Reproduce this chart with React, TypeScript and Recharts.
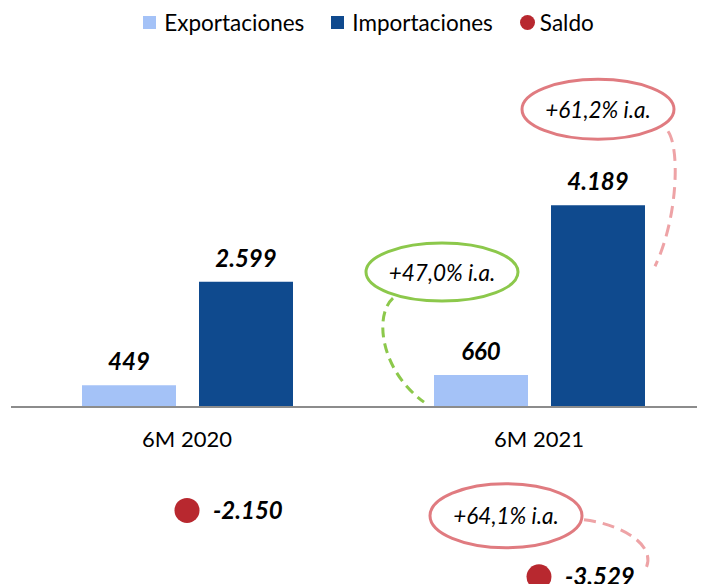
import {
  Bar,
  ComposedChart,
  LabelList,
  Legend,
  Line,
  ReferenceLine,
  XAxis,
  YAxis,
} from "recharts";

const periods = ["6M 2020", "6M 2021"];
const exportValues = [449, 660];
const importValues = [2599, 4189];
const balanceValues = [-2150, -3529];
const exportGrowth = [null, "+47,0% i.a."];
const importGrowth = [null, "+61,2% i.a."];
const balanceGrowth = [null, "+64,1% i.a."];

const FONT = "Lato, 'Noto Sans', sans-serif";
const EXPORT_COLOR = "#a4c2f7";
const IMPORT_COLOR = "#0f4a8e";
const BALANCE_COLOR = "#b8282f";
const GREEN = "#8cc84b";
const PINK = "#e07b80";
const PINK_LIGHT = "#eea3a6";

const data = periods.map((period, i) => ({
  period,
  exports: exportValues[i],
  imports: importValues[i],
  balance: balanceValues[i],
  exportNote: exportGrowth[i],
  importNote: importGrowth[i],
  balanceNote: balanceGrowth[i],
}));

const legendItems = [
  { name: "Exportaciones", color: EXPORT_COLOR, round: false },
  { name: "Importaciones", color: IMPORT_COLOR, round: false },
  { name: "Saldo", color: BALANCE_COLOR, round: true },
];

function fmt(v: unknown): string {
  const n = Number(v);
  const s = String(Math.abs(n)).replace(/\B(?=(\d{3})+(?!\d))/g, ".");
  return n < 0 ? `-${s}` : s;
}

function box(props: any) {
  const vb = props.viewBox ?? {};
  return {
    x: Number(props.x ?? vb.x),
    y: Number(props.y ?? vb.y),
    width: Number(props.width ?? vb.width ?? 0),
  };
}

function LegendContent() {
  return (
    <div
      style={{
        display: "flex",
        justifyContent: "center",
        alignItems: "center",
        height: 44,
        paddingLeft: 32,
        fontFamily: FONT,
        fontSize: 22.5,
        color: "#000",
      }}
    >
      {legendItems.map((item, i) => (
        <span
          key={item.name}
          style={{ display: "flex", alignItems: "center", marginLeft: i ? 27 : 0 }}
        >
          <span
            style={{
              display: "inline-block",
              width: item.round ? 15 : 13,
              height: item.round ? 15 : 13,
              background: item.color,
              borderRadius: item.round ? "50%" : 0,
              marginRight: item.round ? 5 : 8,
            }}
          />
          {item.name}
        </span>
      ))}
    </div>
  );
}

const renderCategoryTick = (props: any) => {
  const { x, y, payload } = props;
  return (
    <text
      x={x}
      y={Number(y) - 146}
      textAnchor="middle"
      fontFamily={FONT}
      fontSize={22}
      fill="#000"
    >
      {payload.value}
    </text>
  );
};

function NoteBubble({ cx, cy, rx, ry, color, text }: any) {
  return (
    <g>
      <ellipse cx={cx} cy={cy} rx={rx} ry={ry} fill="#fff" stroke={color} strokeWidth={3} />
      <text
        x={cx}
        y={cy}
        textAnchor="middle"
        dominantBaseline="central"
        fontFamily={FONT}
        fontStyle="italic"
        fontSize={22.5}
        fill="#000"
      >
        {text}
      </text>
    </g>
  );
}

const renderExportNote = (props: any) => {
  if (!props.value) return null;
  const { x, y } = box(props);
  return (
    <g>
      <path
        d={`M${x - 41},${y - 77} C${x - 60},${y - 60} ${x - 54},${y - 5} ${x - 10},${y + 27}`}
        fill="none"
        stroke={GREEN}
        strokeWidth={3}
        strokeDasharray="10 6"
      />
      <NoteBubble cx={x + 8} cy={y - 103} rx={76} ry={29} color={GREEN} text={props.value} />
    </g>
  );
};

const renderImportNote = (props: any) => {
  if (!props.value) return null;
  const { x, y, width } = box(props);
  const r = x + width;
  return (
    <g>
      <path
        d={`M${r + 23},${y - 74} C${r + 35},${y - 57} ${r + 33},${y + 13} ${r + 10},${y + 61}`}
        fill="none"
        stroke={PINK_LIGHT}
        strokeWidth={3}
        strokeDasharray="12 7"
      />
      <NoteBubble cx={x + width / 2} cy={y - 96} rx={76} ry={30} color={PINK} text={props.value} />
    </g>
  );
};

const renderBalanceNote = (props: any) => {
  if (!props.value) return null;
  const { x, y } = box(props);
  return (
    <g>
      <path
        d={`M${x + 45},${y - 57} C${x + 86},${y - 52} ${x + 121},${y - 29} ${x + 105},${y - 5}`}
        fill="none"
        stroke={PINK_LIGHT}
        strokeWidth={3}
        strokeDasharray="12 7"
      />
      <NoteBubble cx={x - 33} cy={y - 61} rx={76} ry={32} color={PINK} text={props.value} />
    </g>
  );
};

const valueLabel = {
  fontFamily: FONT,
  fontSize: 24,
  fontWeight: 700,
  fontStyle: "italic",
  fill: "#000",
};

export default function App() {
  return (
    <div style={{ width: 705, height: 584, overflow: "hidden", margin: "-8px 0 0 -8px" }}>
      <ComposedChart
        width={716}
        height={620}
        data={data}
        margin={{ top: 50, right: 1, bottom: 5, left: 11 }}
        barSize={94}
        barGap={23}
      >
        <Legend
          verticalAlign="top"
          content={<LegendContent />}
          wrapperStyle={{ top: 0, left: 0, width: 705 }}
        />
        <XAxis
          dataKey="period"
          height={30}
          axisLine={false}
          tickLine={false}
          tick={renderCategoryTick}
          interval={0}
        />
        <YAxis hide domain={[-3700, 6500]} />
        <ReferenceLine y={0} stroke="#8c8c8c" strokeWidth={2} />
        <Bar dataKey="exports" name="Exportaciones" fill={EXPORT_COLOR} isAnimationActive={false}>
          <LabelList dataKey="exports" position="top" offset={15} formatter={fmt} {...valueLabel} />
          <LabelList dataKey="exportNote" content={renderExportNote} />
        </Bar>
        <Bar dataKey="imports" name="Importaciones" fill={IMPORT_COLOR} isAnimationActive={false}>
          <LabelList dataKey="imports" position="top" offset={15} formatter={fmt} {...valueLabel} />
          <LabelList dataKey="importNote" content={renderImportNote} />
        </Bar>
        <Line
          dataKey="balance"
          name="Saldo"
          stroke="none"
          dot={{ r: 12.5, fill: BALANCE_COLOR, stroke: "none" }}
          activeDot={false}
          isAnimationActive={false}
        >
          <LabelList dataKey="balance" position="right" offset={26} formatter={fmt} {...valueLabel} />
          <LabelList dataKey="balanceNote" content={renderBalanceNote} />
        </Line>
      </ComposedChart>
    </div>
  );
}
